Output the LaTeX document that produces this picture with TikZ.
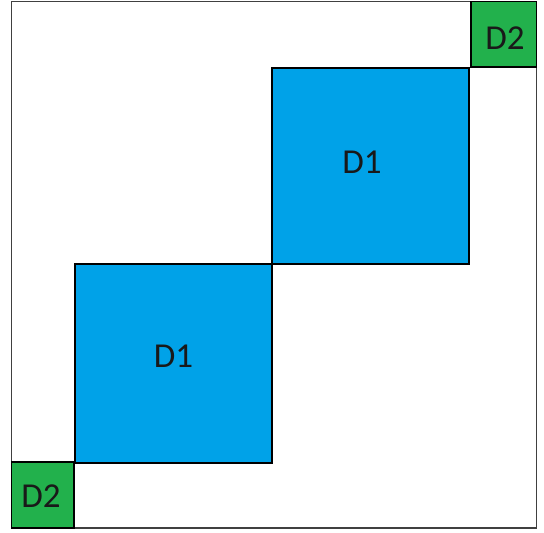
\documentclass[tikz,border=0pt]{standalone}
\usepackage{fontspec}
\setmainfont{Carlito}
\definecolor{dblue}{HTML}{00A2E8}
\definecolor{dgreen}{HTML}{22B14C}
\tikzset{
  blk/.style={draw=black, line width=1.2pt, inner sep=0pt},
  bluebox/.style={blk, fill=dblue},
  greenbox/.style={blk, fill=dgreen},
  lbl/.style={font=\fontsize{35}{35}\selectfont, text=black!90}
}
\begin{document}
\begin{tikzpicture}[x=1pt,y=-1pt]
\useasboundingbox (0,0) rectangle (544,533);
\fill[white] (0,0) rectangle (544,533);
\draw[draw=black!75, line width=1.2pt] (11.5,1.5) rectangle (536.5,528);
\draw[bluebox] (75,264) rectangle (272,463);
\node[lbl] (b1) at (173.5,356) {D1};
\draw[bluebox] (272,68) rectangle (469,264);
\node[lbl] (b2) at (362,162) {D1};
\draw[greenbox] (471,1.5) rectangle (536.5,67);
\node[lbl] (g1) at (505,38) {D2};
\draw[greenbox] (11.5,462) rectangle (74,528);
\node[lbl] (g2) at (41,496) {D2};
\end{tikzpicture}
\end{document}
